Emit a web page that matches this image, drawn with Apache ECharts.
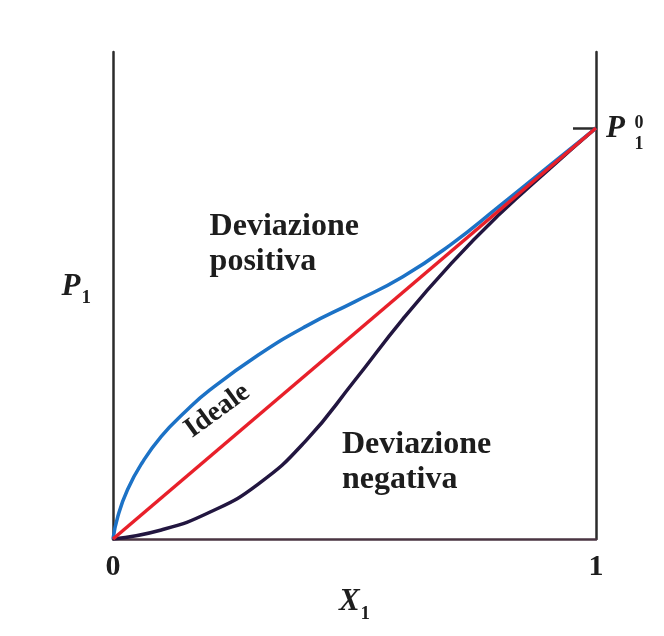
<!DOCTYPE html>
<html>
<head>
<meta charset="utf-8">
<script src="https://cdn.jsdelivr.net/npm/echarts@6/dist/echarts.min.js"></script>
<style>
html,body{margin:0;padding:0;background:#ffffff;}
#chart{width:664px;height:636px;}
</style>
</head>
<body>
<div id="chart"></div>
<script>
// ---- data ----
const xTickLabels = ['0', '1'];
const xPositive = [0, 0.01, 0.03, 0.06, 0.1, 0.15, 0.2, 0.3, 0.4, 0.5, 0.6, 0.7, 0.8, 0.9, 1];
const yPositive = [0, 0.055, 0.12, 0.185, 0.25, 0.31, 0.362, 0.447, 0.518, 0.577, 0.638, 0.717, 0.81, 0.905, 1];
const xNegative = [0, 0.1, 0.2, 0.3, 0.4, 0.5, 0.6, 0.7, 0.8, 0.9, 1];
const yNegative = [0, 0.022, 0.065, 0.133, 0.24, 0.385, 0.535, 0.67, 0.79, 0.897, 1];
const xIdeal = [0, 1];
const yIdeal = [0, 1];
const seriesNames = ['Deviazione positiva', 'Ideale', 'Deviazione negativa'];

function pairs(xs, ys) { return xs.map((x, i) => [x, ys[i]]); }

const SERIF = '"Liberation Serif", "DejaVu Serif", serif';
const TXT = '#1d1d1d';

const chart = echarts.init(document.getElementById('chart'), null, {renderer: 'canvas'});

const option = {
  backgroundColor: '#ffffff',
  animation: false,
  grid: {left: 113, right: 68, top: 52, bottom: 97},
  xAxis: {
    type: 'value', min: 0, max: 1, interval: 1,
    axisLine: {show: true, lineStyle: {color: '#4a3442', width: 2.5}},
    axisTick: {show: false},
    splitLine: {show: false},
    axisLabel: {
      margin: 13,
      formatter: v => xTickLabels[Math.round(v)],
      fontFamily: SERIF, fontWeight: 'bold', fontSize: 30, color: TXT
    },
    name: '{x|X}{s|1}',
    nameLocation: 'middle',
    nameGap: 29,
    nameTextStyle: {
      rich: {
        x: {fontFamily: SERIF, fontStyle: 'italic', fontWeight: 'bold', fontSize: 31, color: TXT, verticalAlign: 'bottom'},
        s: {fontFamily: SERIF, fontWeight: 'bold', fontSize: 19, color: TXT, verticalAlign: 'bottom', padding: [0, 0, -6, 1]}
      }
    }
  },
  yAxis: [{
    type: 'value', min: 0, max: 1.185, position: 'left',
    axisLine: {show: true, onZero: false, lineStyle: {color: '#2b2b2b', width: 2.5}},
    axisTick: {show: false},
    axisLabel: {show: false},
    splitLine: {show: false},
    name: '{p|P}{s|1}',
    nameLocation: 'middle',
    nameRotate: 0,
    nameGap: 22,
    nameTextStyle: {
      align: 'right',
      padding: [0, 0, 18, 0],
      rich: {
        p: {fontFamily: SERIF, fontStyle: 'italic', fontWeight: 'bold', fontSize: 31, color: TXT, verticalAlign: 'bottom'},
        s: {fontFamily: SERIF, fontWeight: 'bold', fontSize: 19, color: TXT, verticalAlign: 'bottom', padding: [0, 0, -6, 1]}
      }
    }
  }, {
    type: 'value', min: 0, max: 1.185, position: 'right',
    axisLine: {show: true, onZero: false, lineStyle: {color: '#2b2b2b', width: 2.5}},
    axisTick: {show: true, inside: true, length: 23, customValues: [1], lineStyle: {color: '#2b2b2b', width: 2.5}},
    axisLabel: {show: false},
    splitLine: {show: false}
  }],
  series: [
    {
      name: seriesNames[2], type: 'line', smooth: 0.5, symbol: 'none',
      data: pairs(xNegative, yNegative),
      lineStyle: {color: '#221640', width: 3.5}
    },
    {
      name: seriesNames[0], type: 'line', smooth: 0.5, symbol: 'none',
      data: pairs(xPositive, yPositive),
      lineStyle: {color: '#1c72c6', width: 3.5}
    },
    {
      name: seriesNames[1], type: 'line', smooth: false, symbol: 'none',
      data: pairs(xIdeal, yIdeal),
      lineStyle: {color: '#e8202a', width: 3.5}
    }
  ]
};

chart.setOption(option);

function px(x, y) { return chart.convertToPixel({gridIndex: 0}, [x, y]); }

const labelFont = 'bold 32px ' + SERIF;
const top1 = px(xIdeal[1], yIdeal[1]);
const posAnchor = px(0.2, 0.72);
const negAnchor = px(0.474, 0.19);
const idealAnchor = px(0.216, 0.312);

chart.setOption({
  graphic: [
    {type: 'text', x: posAnchor[0], y: posAnchor[1], style: {text: 'Deviazione', font: labelFont, fill: TXT, align: 'left', verticalAlign: 'bottom'}},
    {type: 'text', x: posAnchor[0], y: posAnchor[1] + 35, style: {text: 'positiva', font: labelFont, fill: TXT, align: 'left', verticalAlign: 'bottom'}},
    {type: 'text', x: negAnchor[0], y: negAnchor[1], style: {text: 'Deviazione', font: labelFont, fill: TXT, align: 'left', verticalAlign: 'bottom'}},
    {type: 'text', x: negAnchor[0], y: negAnchor[1] + 35, style: {text: 'negativa', font: labelFont, fill: TXT, align: 'left', verticalAlign: 'bottom'}},
    {type: 'text', x: idealAnchor[0], y: idealAnchor[1], rotation: 36 * Math.PI / 180,
      style: {text: 'Ideale', font: 'bold 28px ' + SERIF, fill: TXT, align: 'center', verticalAlign: 'middle'}},
    {type: 'text', x: top1[0] + 10, y: top1[1] + 1, style: {text: 'P', font: 'italic bold 31px ' + SERIF, fill: TXT, align: 'left', verticalAlign: 'middle'}},
    {type: 'text', x: top1[0] + 43, y: top1[1] - 5, style: {text: '0', font: 'bold 18px ' + SERIF, fill: TXT, align: 'center', verticalAlign: 'middle'}},
    {type: 'text', x: top1[0] + 43, y: top1[1] + 16, style: {text: '1', font: 'bold 18px ' + SERIF, fill: TXT, align: 'center', verticalAlign: 'middle'}}
  ]
});
</script>
</body>
</html>
